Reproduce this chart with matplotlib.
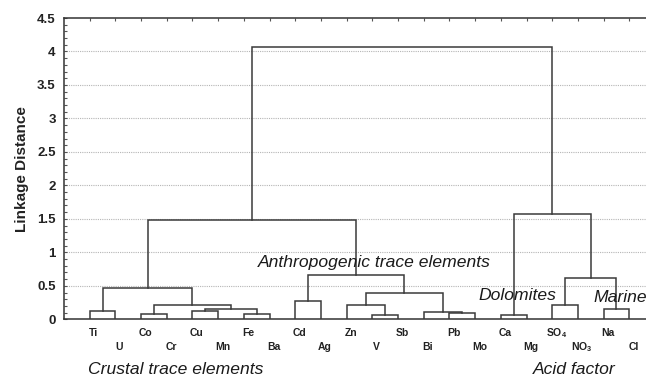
import matplotlib
matplotlib.use("Agg")
import matplotlib.pyplot as plt
import numpy as np

plt.rcParams['font.family'] = ['Liberation Sans', 'DejaVu Sans']
plt.rcParams['mathtext.fontset'] = 'custom'
plt.rcParams['mathtext.rm'] = 'Liberation Sans:bold'
plt.rcParams['mathtext.bf'] = 'Liberation Sans:bold'
plt.rcParams['mathtext.default'] = 'rm'

# ---- data ----
leaves = ['Ti', 'U', 'Co', 'Cr', 'Cu', 'Mn', 'Fe', 'Ba', 'Cd', 'Ag', 'Zn', 'V',
          'Sb', 'Bi', 'Pb', 'Mo', 'Ca', 'Mg', r'SO$_4$', r'NO$_3$', 'Na', 'Cl']
# merges: cluster ids 0..21 are leaves, new clusters numbered from 22 in order
merge_left = [11, 16, 2, 6, 14, 13, 0, 4, 29, 20, 24, 10, 18, 8, 33, 28, 34, 35, 37, 23, 40]
merge_right = [12, 17, 3, 7, 15, 26, 1, 5, 25, 21, 30, 22, 19, 9, 27, 32, 31, 36, 39, 38, 41]
merge_height = [0.07, 0.07, 0.08, 0.08, 0.10, 0.115, 0.125, 0.12, 0.16, 0.16, 0.215,
                0.215, 0.215, 0.28, 0.40, 0.47, 0.61, 0.66, 1.49, 1.575, 4.065]
yticks = [0, 0.5, 1, 1.5, 2, 2.5, 3, 3.5, 4, 4.5]
ytick_labels = ['0', '0.5', '1', '1.5', '2', '2.5', '3', '3.5', '4', '4.5']
group_labels = ['Crustal trace elements', 'Anthropogenic trace elements',
                'Dolomites', 'Marine', 'Acid factor']

W, H = 646, 378
fig = plt.figure(figsize=(W / 100, H / 100), dpi=100)
ax = fig.add_axes([64 / W, (H - 319.3) / H, (655 - 64) / W, (319.3 - 18) / H])

line_col = '#3a3a3a'
n = len(leaves)
pos = {i: float(i) for i in range(n)}
hgt = {i: 0.0 for i in range(n)}
for k, (a, b, h) in enumerate(zip(merge_left, merge_right, merge_height)):
    cid = n + k
    xa, xb = pos[a], pos[b]
    ax.plot([xa, xa, xb, xb], [hgt[a], h, h, hgt[b]], color=line_col, lw=1.1,
            solid_joinstyle='miter', zorder=3)
    pos[cid] = (xa + xb) / 2
    hgt[cid] = h

ax.set_xlim(-1, n)
ax.set_ylim(0, 4.5)

# grid
for yv in yticks[1:-1]:
    ax.axhline(yv, color='#b5b5b5', lw=0.8, ls=(0, (1, 1)), zorder=1)

for s in ax.spines.values():
    s.set_color('#333333')
    s.set_linewidth(1.1)

ax.set_yticks(yticks)
ax.set_yticklabels(ytick_labels, fontsize=9.5, fontweight='bold', color='#222222')
ax.set_yticks(np.arange(0, 4.51, 0.1), minor=True)
ax.tick_params(axis='y', which='both', direction='in', length=2.5, width=0.8,
               color='#555555', pad=6, right=False)
ax.set_xticks(range(n))
ax.set_xticklabels([])
ax.tick_params(axis='x', which='both', direction='in', length=2.5, width=0.8,
               color='#555555', top=True, bottom=False, labelbottom=False)

ax.set_ylabel('Linkage Distance', fontsize=11, fontweight='bold', labelpad=6,
              color='#222222')

for i, lab in enumerate(leaves):
    dy = -12 if i % 2 == 0 else -22
    ax.annotate(lab, xy=(i, 0), xycoords='data', xytext=(3, dy),
                textcoords='offset points', ha='center', va='baseline',
                fontsize=7.5, fontweight='bold', color='#222222', annotation_clip=False)

txt_kw = dict(fontsize=12.6, style='italic', color='#1a1a1a', clip_on=False)
ax.text(-0.05, -0.757, group_labels[0], ha='left', va='center', **txt_kw)
ax.text(6.56, 0.855, group_labels[1], ha='left', va='center', **txt_kw)
ax.text(15.12, 0.348, group_labels[2], ha='left', va='center', **txt_kw)
ax.text(19.6, 0.333, group_labels[3], ha='left', va='center', **txt_kw)
ax.text(17.26, -0.757, group_labels[4], ha='left', va='center', **txt_kw)

fig.savefig('out.png', dpi=100)
